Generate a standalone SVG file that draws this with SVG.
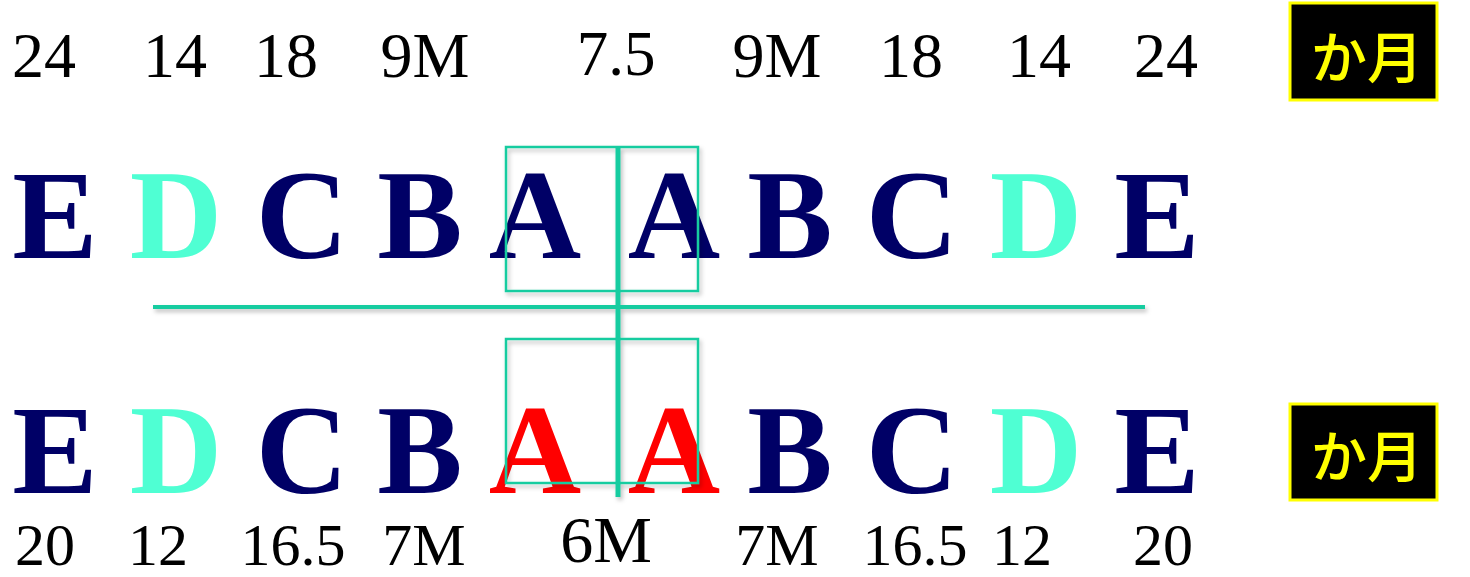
<svg xmlns="http://www.w3.org/2000/svg" width="1470" height="577" viewBox="0 0 1470 577">
<style>
.num{font-family:"Liberation Serif","Times New Roman",serif;font-size:64px;fill:#000;text-anchor:middle}
.num2{font-family:"Liberation Serif","Times New Roman",serif;font-size:60px;fill:#000;text-anchor:middle}
.mid{font-family:"Liberation Serif","Times New Roman",serif;fill:#000;text-anchor:middle}
.big{font-family:"Liberation Serif","Times New Roman",serif;font-weight:bold;font-size:128px;text-anchor:middle}
.navy{fill:#000066}
.aqua{fill:#4FFFD3}
.red{fill:#FF0000}
.unit{fill:#000;stroke:#FFFF00;stroke-width:3}
.unitText{font-family:"Noto Sans CJK JP","Noto Sans",sans-serif;font-size:56px;font-weight:500;fill:#FFFF00;text-anchor:middle}
.g{stroke:#18CCA0;fill:none}
</style>
<defs>
<filter id="sh" x="-10%" y="-10%" width="120%" height="130%">
<feDropShadow dx="2" dy="3" stdDeviation="2" flood-color="#000" flood-opacity="0.25"/>
</filter>
</defs>
<g id="top-numbers">
<text class="num" x="44" y="77">24</text>
<text class="num" x="175" y="77">14</text>
<text class="num" x="286" y="77">18</text>
<text class="num" x="425" y="77">9M</text>
<text class="mid" x="616" y="75" font-size="63">7.5</text>
<text class="num" x="777" y="77">9M</text>
<text class="num" x="911" y="77">18</text>
<text class="num" x="1039" y="77">14</text>
<text class="num" x="1166" y="77">24</text>
</g>
<g id="unit-top">
<rect class="unit" x="1290" y="3" width="147" height="97"/>
<text class="unitText" x="1367" y="78">か月</text>
</g>
<g id="row-top">
<text class="big navy" x="55" y="258">E</text>
<text class="big aqua" x="176" y="258">D</text>
<text class="big navy" x="302" y="258">C</text>
<text class="big navy" x="420" y="258">B</text>
<text class="big navy" x="535" y="258">A</text>
<text class="big navy" x="674" y="258">A</text>
<text class="big navy" x="790" y="258">B</text>
<text class="big navy" x="912" y="258">C</text>
<text class="big aqua" x="1036" y="258">D</text>
<text class="big navy" x="1157" y="258">E</text>
</g>
<g id="row-bottom">
<text class="big navy" x="55" y="493">E</text>
<text class="big aqua" x="176" y="493">D</text>
<text class="big navy" x="302" y="493">C</text>
<text class="big navy" x="420" y="493">B</text>
<text class="big red" x="535" y="493">A</text>
<text class="big red" x="674" y="493">A</text>
<text class="big navy" x="790" y="493">B</text>
<text class="big navy" x="912" y="493">C</text>
<text class="big aqua" x="1036" y="493">D</text>
<text class="big navy" x="1157" y="493">E</text>
</g>
<g id="connectors" filter="url(#sh)">
<rect class="g" x="506" y="147" width="192" height="144" stroke-width="2.5"/>
<rect class="g" x="506" y="339" width="192" height="144" stroke-width="2.5"/>
<line class="g" x1="153" y1="307" x2="1145" y2="307" stroke-width="4"/>
<line class="g" x1="618" y1="147" x2="618" y2="497" stroke-width="5"/>
</g>
<g id="unit-bottom">
<rect class="unit" x="1290" y="404" width="147" height="96"/>
<text class="unitText" x="1367" y="477">か月</text>
</g>
<g id="bottom-numbers">
<text class="num2" x="45" y="565">20</text>
<text class="num2" x="158" y="565">12</text>
<text class="num2" x="293" y="565">16.5</text>
<text class="num2" x="424" y="565">7M</text>
<text class="mid" x="606" y="562" font-size="66">6M</text>
<text class="num2" x="777" y="565">7M</text>
<text class="num2" x="915" y="565">16.5</text>
<text class="num2" x="1022" y="565">12</text>
<text class="num2" x="1163" y="565">20</text>
</g>
</svg>
